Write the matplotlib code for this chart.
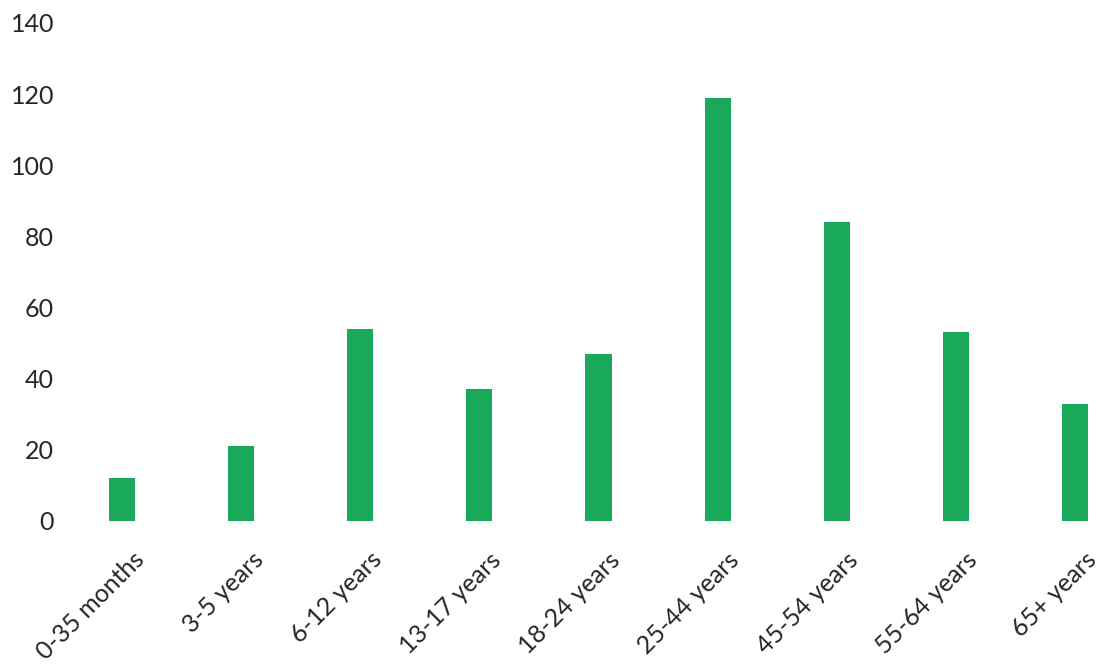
import matplotlib
matplotlib.use("Agg")
import matplotlib.pyplot as plt
from matplotlib.transforms import ScaledTranslation

# data
age_groups = ["0-35 months", "3-5 years", "6-12 years", "13-17 years", "18-24 years",
              "25-44 years", "45-54 years", "55-64 years", "65+ years"]
counts = [12, 21, 54, 37, 47, 119, 84, 53, 33]
y_ticks = [0, 20, 40, 60, 80, 100, 120, 140]

plt.rcParams['font.family'] = ['Lato', 'DejaVu Sans']

fig = plt.figure(figsize=(11.03, 6.71), dpi=100)
ax = fig.add_axes([62.5 / 1103, 1 - 521 / 671, 1072 / 1103, 498 / 671])

ax.bar(range(len(age_groups)), counts, width=0.22, color='#1aa85a')

ax.set_xlim(-0.5, len(age_groups) - 0.5)
ax.set_ylim(0, 140)
ax.set_yticks(y_ticks)
ax.set_xticks(range(len(age_groups)))
ax.set_xticklabels(age_groups, rotation=45, ha='right', va='top', rotation_mode='anchor')

for side in ['top', 'right', 'left', 'bottom']:
    ax.spines[side].set_visible(False)
ax.tick_params(axis='both', length=0, labelsize=18, colors='#262626')
ax.tick_params(axis='y', pad=6)
ax.tick_params(axis='x', pad=0)

# shift x labels so their upper end sits right of the bar, like the original
off = ScaledTranslation(0.10, -0.27, fig.dpi_scale_trans)
for lbl in ax.get_xticklabels():
    lbl.set_transform(lbl.get_transform() + off)

fig.savefig("out.png", dpi=100)
